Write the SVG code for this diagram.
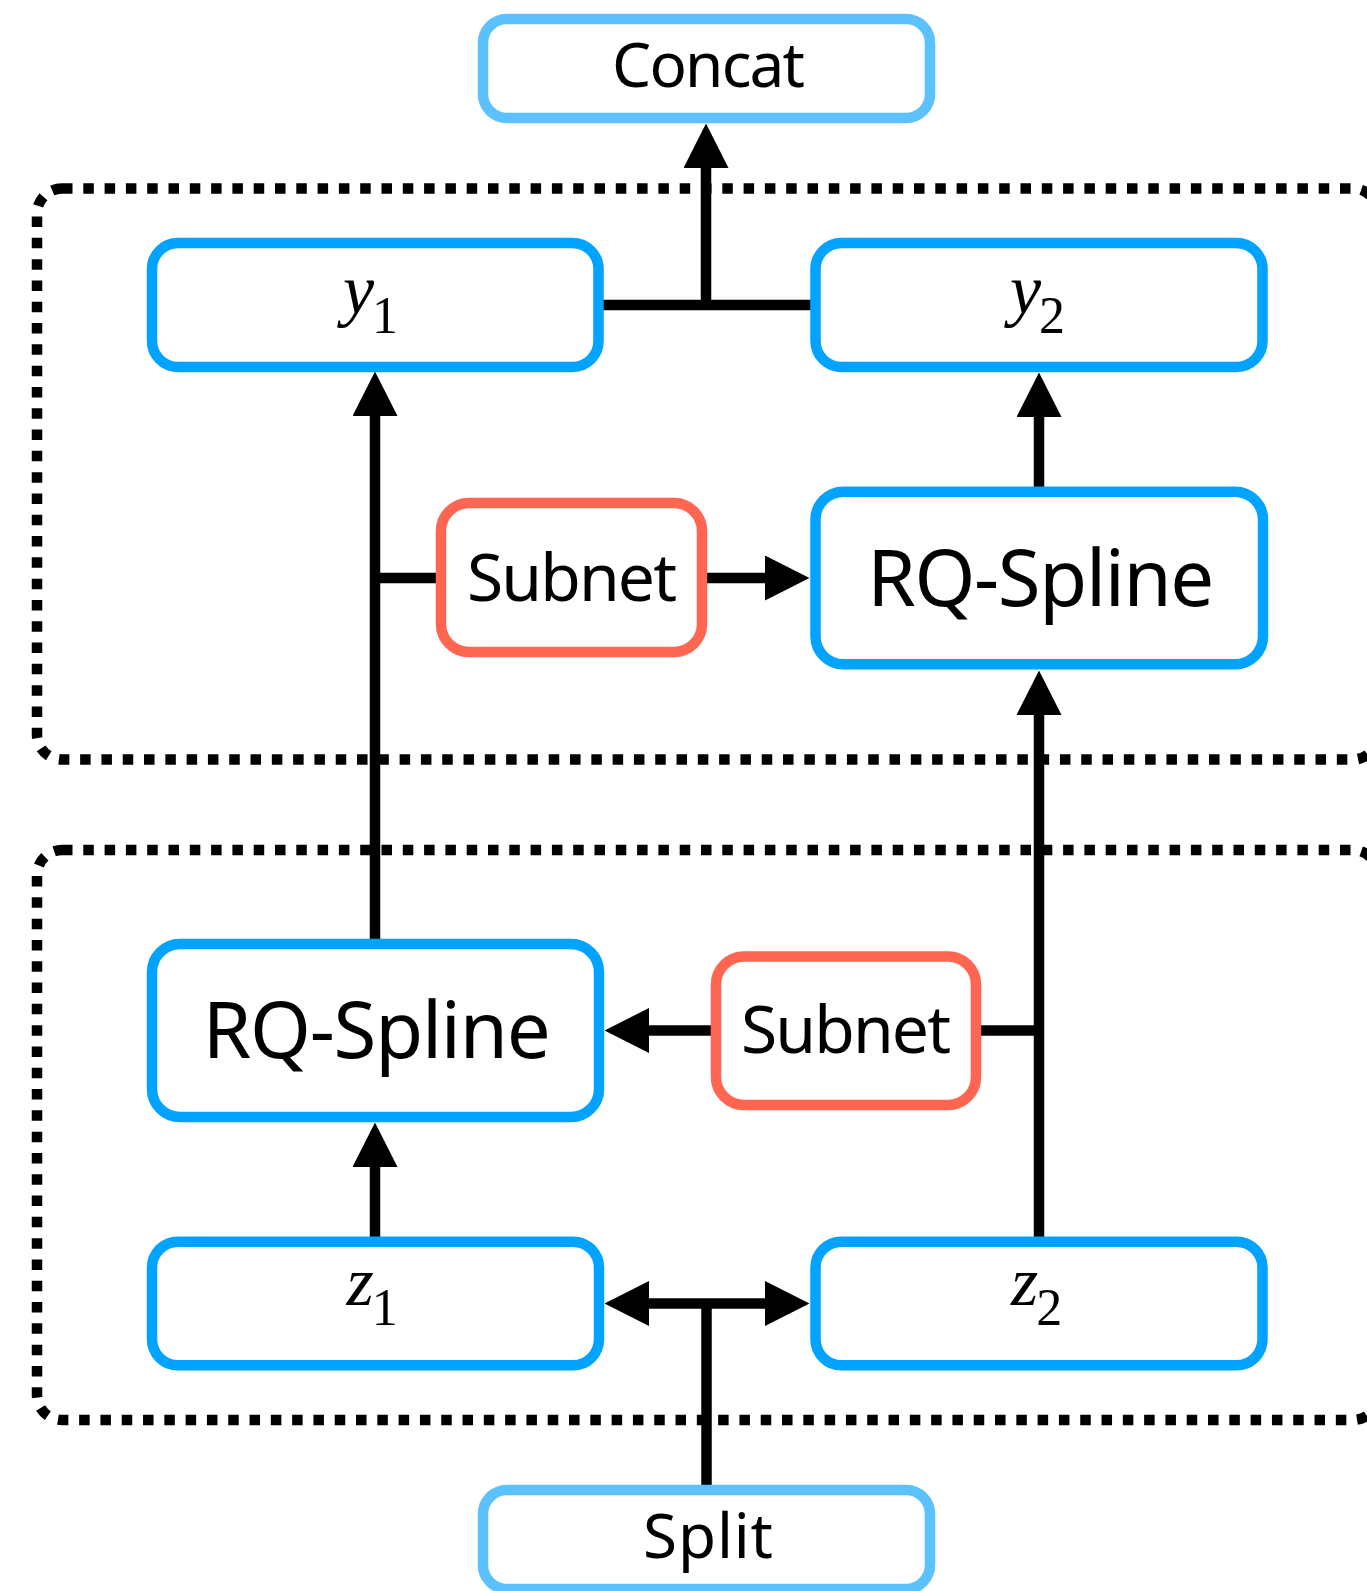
<svg xmlns="http://www.w3.org/2000/svg" width="1367" height="1591" viewBox="0 0 1367 1591">
<defs>
<style>
.box{fill:#fff;stroke-width:10.5}
.main{stroke:#00A3FF}
.io{stroke:#5BC2FF}
.sub{stroke:#FF6652}
.grp{fill:none;stroke:#000;stroke-width:10.5;stroke-dasharray:10.5 10.8}
.c{fill:none;stroke:#000;stroke-width:10.5}
.lbl{font-family:"Noto Sans","Open Sans",sans-serif;fill:#000;text-anchor:middle}
.math{font-family:"Liberation Serif","Times New Roman",serif;fill:#000;text-anchor:middle;font-size:70px}
</style>
<marker id="ah" markerUnits="userSpaceOnUse" markerWidth="46" markerHeight="46" refX="0" refY="22.5" orient="auto-start-reverse" viewBox="0 0 46 46">
<path d="M0,0 L44.5,22.5 L0,45 Z" fill="#000"/>
</marker>
</defs>
<rect width="1367" height="1591" fill="#fff"/>

<g id="groups">
<rect id="group-top" class="grp" x="37" y="188.5" width="1341" height="571" rx="25"/>
<rect id="group-bottom" class="grp" x="37" y="850" width="1341" height="570" rx="25"/>
</g>

<g id="connectors">
<path class="c" d="M598.5,305 H815.5"/>
<path class="c" d="M706,310 V168" marker-end="url(#ah)"/>
<path class="c" d="M375,939 V416" marker-end="url(#ah)"/>
<path class="c" d="M375,578 H436"/>
<path class="c" d="M706.5,578 H765" marker-end="url(#ah)"/>
<path class="c" d="M1039,487 V417" marker-end="url(#ah)"/>
<path class="c" d="M1039,1237 V715" marker-end="url(#ah)"/>
<path class="c" d="M981,1030.5 H1044"/>
<path class="c" d="M711,1030.5 H649" marker-end="url(#ah)"/>
<path class="c" d="M375,1237 V1167" marker-end="url(#ah)"/>
<path class="c" d="M706.5,1486 V1303.5"/>
<path class="c" d="M649,1303.5 H765" marker-start="url(#ah)" marker-end="url(#ah)"/>
</g>

<g id="concat">
<rect class="box io" x="483" y="19" width="447" height="99" rx="24"/>
<text class="lbl" x="708.5" y="87" font-size="62" textLength="193">Concat</text>
</g>
<g id="y1">
<rect class="box main" x="152" y="243" width="446.5" height="124" rx="26"/>
<text class="math" x="370.5" y="313"><tspan font-style="italic">y</tspan><tspan font-size="52" dx="-2" dy="20">1</tspan></text>
</g>
<g id="y2">
<rect class="box main" x="815.5" y="243" width="447" height="124" rx="26"/>
<text class="math" x="1037.5" y="313"><tspan font-style="italic">y</tspan><tspan font-size="52" dx="-2" dy="20">2</tspan></text>
</g>
<g id="subnet-top">
<rect class="box sub" x="441" y="503" width="261" height="149" rx="28"/>
<text class="lbl" x="572" y="600.7" font-size="66" textLength="210">Subnet</text>
</g>
<g id="rqspline-top">
<rect class="box main" x="815.5" y="491.7" width="447.5" height="172.6" rx="28"/>
<text class="lbl" x="1040.8" y="605.7" font-size="78" textLength="347">RQ-Spline</text>
</g>
<g id="rqspline-bottom">
<rect class="box main" x="152" y="944" width="447" height="173" rx="28"/>
<text class="lbl" x="376.7" y="1057.7" font-size="78" textLength="348">RQ-Spline</text>
</g>
<g id="subnet-bottom">
<rect class="box sub" x="716" y="956.5" width="260" height="148.5" rx="28"/>
<text class="lbl" x="846" y="1052.7" font-size="66" textLength="210">Subnet</text>
</g>
<g id="z1">
<rect class="box main" x="152" y="1241.7" width="447" height="123.6" rx="26"/>
<text class="math" x="372" y="1305"><tspan font-style="italic">z</tspan><tspan font-size="52" dx="-2" dy="20">1</tspan></text>
</g>
<g id="z2">
<rect class="box main" x="815.5" y="1241.7" width="447" height="123.6" rx="26"/>
<text class="math" x="1036.5" y="1305"><tspan font-style="italic">z</tspan><tspan font-size="52" dx="-2" dy="20">2</tspan></text>
</g>
<g id="split">
<rect class="box io" x="483" y="1490" width="447" height="99" rx="24"/>
<text class="lbl" x="708" y="1558" font-size="62" textLength="130">Split</text>
</g>
</svg>
